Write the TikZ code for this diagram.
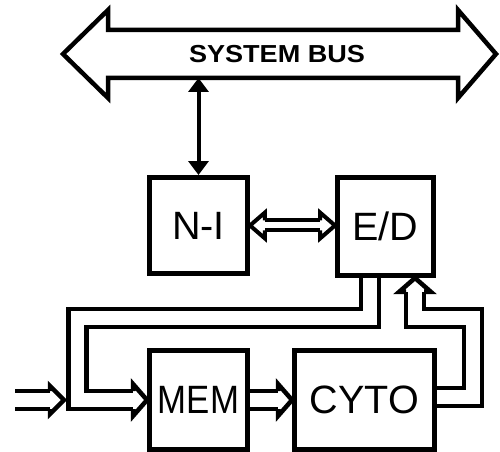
\documentclass[tikz,border=0pt]{standalone}
\usepackage{fontspec}
\setmainfont{Liberation Sans}
\usetikzlibrary{arrows.meta, calc}

\begin{document}
\begin{tikzpicture}[
        x=0.02cm, y=-0.02cm,
        line width=0.09cm,
        >={Triangle[width=0.4cm, length=0.28cm]},
        block/.style={draw, inner sep=0pt, font=\fontsize{22.5}{22.5}\selectfont},
        hollow/.style={double, double distance=0.27cm},
        thinhollow/.style={line width=0.08cm, double, double distance=0.12cm}
    ]

    \useasboundingbox (0,0) rectangle (500,452);

    % System bus
    \draw (63,54) -- (108,10) -- (108,30) -- (458,30) -- (458,10) -- (496,54)
          -- (458,98) -- (458,78) -- (108,78) coordinate (busfoot) -- (108,98) -- cycle;
    \node[font=\bfseries\fontsize{14}{14}\selectfont] (bus) at (277,54)
        {\scalebox{1.1}[1]{SYSTEM BUS}};

    % Blocks
    \node[block, minimum width=1.97cm, minimum height=1.93cm] (ni) at (198.5,225.5) {N-I};
    \node[block, minimum width=1.93cm, minimum height=1.97cm] (ed) at (385.5,226.5) {E/D};
    \node[block, minimum width=1.97cm, minimum height=1.99cm] (mem) at (198.5,400)
        {\scalebox{0.88}[1]{MEM}};
    \node[block, minimum width=2.81cm, minimum height=1.99cm] (cyto) at (364.5,400) {CYTO};

    % Bus access
    \draw[<->, line width=0.08cm] (ni.north) -- (ni.north |- busfoot);

    % N-I <=> E/D
    \draw[thinhollow] ($(ni.east)+(15,0)$) -- ($(ni.east -| ed.west)+(-15,0)$);
    \draw[line width=0.08cm] ($(ni.east)+(15,-5)$) -- ++(0,-8) -- (ni.east)
          -- ++(15,13) -- ++(0,-8);
    \draw[line width=0.08cm] ($(ni.east -| ed.west)+(-15,-5)$) -- ++(0,-8) -- (ni.east -| ed.west)
          -- ++(-15,13) -- ++(0,-8);

    % Input
    \coordinate (feed) at (15,400);
    \draw[hollow] (feed) -- ++(35,0);
    \draw ($(feed)+(35,-9)$) -- ++(0,-5) -- ++(14,14) -- ++(-14,14) -- ++(0,-5);

    % E/D -> MEM
    \draw[hollow] ($(ed.south)+(-15.5,0)$) |- (77.5,318) |- ($(mem.west)+(-14,0)$);
    \draw ($(mem.west)+(-14,-9)$) -- ++(0,-7) -- (mem.west) -- ++(-14,16) -- ++(0,-7);

    % MEM -> CYTO
    \draw[hollow] (mem.east) -- ($(cyto.west)+(-14,0)$);
    \draw ($(cyto.west)+(-14,-9)$) -- ++(0,-7) -- (cyto.west) -- ++(-14,16) -- ++(0,-7);

    % CYTO -> E/D
    \coordinate (edin) at ($(ed.south)+(29.5,0)$);
    \draw[hollow] ($(cyto.east)+(0,-3)$) -| (473,318) -| ($(edin)+(0,14)$);
    \draw ($(edin)+(-9,14)$) -- ++(-7,0) -- (edin) -- ++(16,14) -- ++(-7,0);

\end{tikzpicture}
\end{document}
